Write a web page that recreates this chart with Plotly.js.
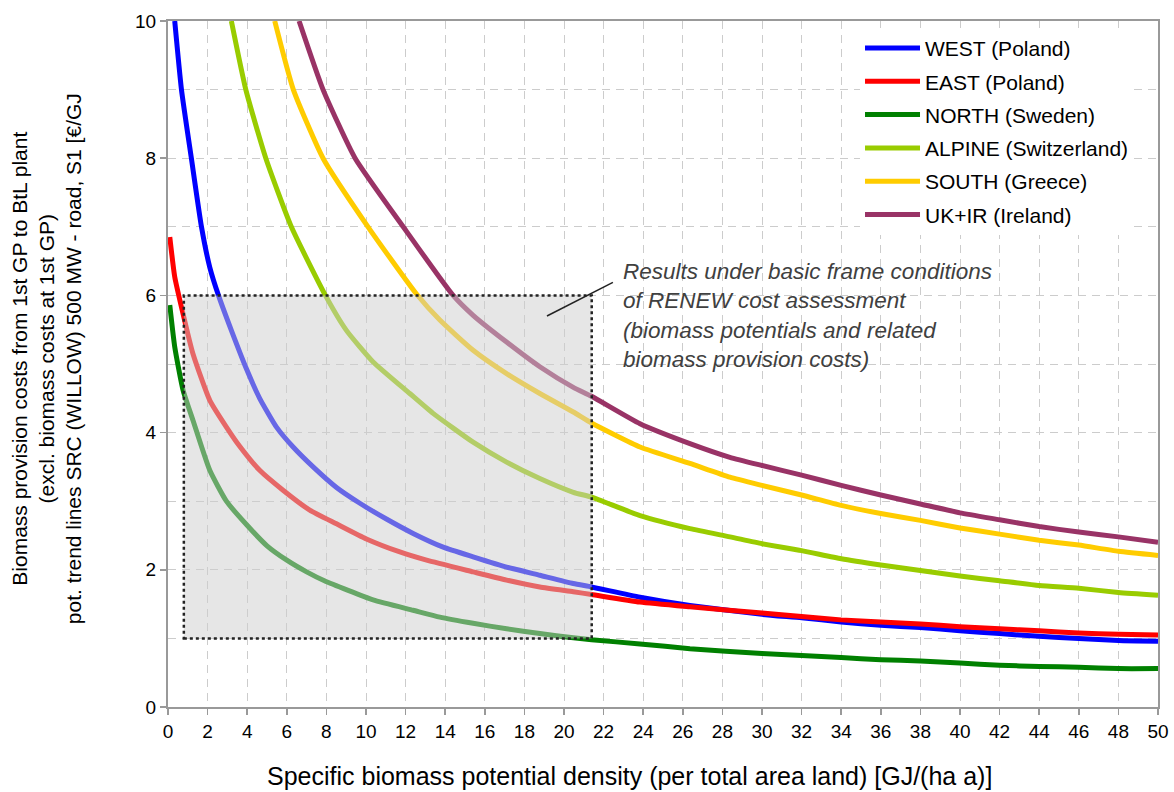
<!DOCTYPE html>
<html>
<head>
<meta charset="utf-8">
<script src="https://cdn.plot.ly/plotly-3.0.1.min.js"></script>
<style>
  html, body { margin: 0; padding: 0; background: #ffffff; }
  #chart { width: 1174px; height: 792px; }
</style>
</head>
<body>
<div id="chart"></div>
<script>
// Trend lines of biomass provision costs per region (€/GJ) vs. potential density (GJ/(ha a))
const westX = [0.34, 0.68, 1.18, 1.69, 2.11, 2.55, 3.2, 3.96, 4.63, 5.48, 6.32, 7.33, 8.51, 9.69, 11.03, 12.38, 13.9, 15.41, 17.1, 18.78, 20.47, 21.39, 23.84, 26.36, 30, 32, 34, 36, 38, 40, 42, 44, 46, 48, 50];
const westY = [10, 9, 8, 7, 6.41, 6.0, 5.49, 4.93, 4.5, 4.08, 3.79, 3.5, 3.2, 2.97, 2.74, 2.53, 2.33, 2.19, 2.04, 1.92, 1.8, 1.75, 1.6, 1.48, 1.35, 1.30, 1.24, 1.19, 1.16, 1.11, 1.07, 1.03, 1.00, 0.97, 0.96];

const eastX = [0.09, 0.34, 0.72, 1.26, 2.11, 2.95, 3.62, 4.63, 5.81, 7.16, 8.51, 10.02, 11.71, 13.06, 15.41, 17.1, 18.78, 20.47, 21.39, 23.84, 26.36, 30, 32, 34, 36, 38, 40, 42, 44, 46, 48, 50];
const eastY = [6.85, 6.27, 5.78, 5.15, 4.47, 4.08, 3.8, 3.45, 3.16, 2.87, 2.67, 2.45, 2.26, 2.14, 1.97, 1.85, 1.75, 1.68, 1.64, 1.53, 1.46, 1.37, 1.32, 1.27, 1.24, 1.21, 1.17, 1.14, 1.11, 1.08, 1.06, 1.05];

const northX = [0.09, 0.34, 0.76, 1.26, 2.11, 2.95, 3.96, 5.0, 6.0, 7.0, 7.9, 10.36, 12.38, 13.73, 15.41, 17.1, 18.78, 20.47, 21.39, 23.84, 26.36, 30, 32, 34, 36, 38, 40, 42, 44, 46, 48, 50];
const northY = [5.86, 5.25, 4.62, 4.18, 3.45, 3.0, 2.66, 2.35, 2.14, 1.97, 1.84, 1.56, 1.41, 1.31, 1.22, 1.14, 1.07, 1.01, 0.98, 0.92, 0.85, 0.78, 0.75, 0.72, 0.69, 0.67, 0.64, 0.61, 0.59, 0.58, 0.56, 0.56];

const alpineX = [3.2, 3.93, 4.94, 6.23, 7.95, 9.01, 10.36, 12.21, 13.39, 15.41, 17.1, 18.78, 20.47, 21.39, 23.84, 26.36, 28.38, 30, 32, 34, 36, 38, 40, 42, 44, 46, 48, 50];
const alpineY = [10, 9, 8, 7.0, 6.0, 5.49, 5.03, 4.57, 4.28, 3.86, 3.57, 3.33, 3.13, 3.06, 2.79, 2.6, 2.48, 2.38, 2.28, 2.16, 2.07, 1.99, 1.91, 1.84, 1.77, 1.73, 1.67, 1.63];

const southX = [5.39, 6.33, 7.83, 10.1, 12.55, 13.73, 15.41, 17.1, 18.78, 20.47, 21.39, 23.84, 26.36, 28.38, 30, 32, 34, 36, 38, 40, 42, 44, 46, 48, 50];
const southY = [10, 9, 8.0, 7.0, 6.02, 5.64, 5.2, 4.86, 4.57, 4.3, 4.14, 3.79, 3.55, 3.35, 3.23, 3.09, 2.94, 2.82, 2.72, 2.61, 2.52, 2.43, 2.36, 2.27, 2.21];

const ukX = [6.62, 7.83, 9.45, 11.88, 14.4, 15.41, 17.1, 18.78, 20.47, 21.39, 23.84, 26.36, 28.38, 30, 32, 34, 36, 38, 40, 42, 44, 46, 48, 50];
const ukY = [10, 9.0, 8.0, 7.0, 6.0, 5.71, 5.32, 4.96, 4.66, 4.53, 4.13, 3.84, 3.64, 3.52, 3.38, 3.23, 3.09, 2.96, 2.83, 2.73, 2.63, 2.55, 2.48, 2.40];

const seriesNames = ['WEST (Poland)', 'EAST (Poland)', 'NORTH (Sweden)', 'ALPINE (Switzerland)', 'SOUTH (Greece)', 'UK+IR (Ireland)'];
const seriesColors = ['#0000ff', '#ff0000', '#008000', '#99cc00', '#ffcc00', '#993366'];
const seriesX = [westX, eastX, northX, alpineX, southX, ukX];
const seriesY = [westY, eastY, northY, alpineY, southY, ukY];

// Range of the basic frame conditions (density and cost bounds)
const frameX = [0.8, 21.4];
const frameY = [1, 6];

const xTicks = [];
for (let v = 0; v <= 50; v += 2) xTicks.push(v);
const yTicks = [0, 2, 4, 6, 8, 10];

const FONT = 'Liberation Sans, Arial, sans-serif';

const traces = seriesNames.map((name, i) => ({
  type: 'scatter',
  mode: 'lines',
  name: name,
  x: seriesX[i],
  y: seriesY[i],
  line: { color: seriesColors[i], width: 5, shape: 'spline', smoothing: 0.5 },
  legendgroup: 'g' + i,
  hoverinfo: 'x+y+name'
}));

const grid = { gridcolor: '#cccccc', gridwidth: 1, griddash: '8px,6px' };

const layout = {
  width: 1174,
  height: 792,
  margin: { l: 168, r: 16, t: 21, b: 85 },
  paper_bgcolor: '#ffffff',
  plot_bgcolor: '#ffffff',
  font: { family: FONT, size: 18, color: '#000000' },
  showlegend: true,
  legend: {
    x: 0.699, xanchor: 'left',
    y: 0.99, yanchor: 'top',
    bgcolor: '#ffffff',
    borderwidth: 0,
    font: { family: FONT, size: 21, color: '#000000' },
    itemwidth: 55,
    traceorder: 'grouped',
    tracegroupgap: 3
  },
  xaxis: Object.assign({
    range: [0, 50],
    tickvals: xTicks,
    ticktext: xTicks.map(String),
    showgrid: true,
    zeroline: false,
    showline: true, linecolor: '#999999', linewidth: 2, mirror: true,
    ticks: 'outside', ticklen: 6, tickwidth: 1.5, tickcolor: '#999999',
    tickfont: { family: FONT, size: 19, color: '#000000' },
    fixedrange: true
  }, grid),
  yaxis: Object.assign({
    range: [0, 10],
    tickvals: yTicks,
    ticktext: yTicks.map(String),
    showgrid: true,
    minor: { dtick: 1, showgrid: true, gridcolor: '#cccccc', gridwidth: 1, griddash: '8px,6px', ticks: '' },
    zeroline: false,
    showline: true, linecolor: '#999999', linewidth: 2, mirror: true,
    ticks: 'outside', ticklen: 6, tickwidth: 1.5, tickcolor: '#999999',
    tickfont: { family: FONT, size: 19, color: '#000000' },
    fixedrange: true
  }, grid),
  shapes: [
    {
      type: 'rect', xref: 'x', yref: 'y',
      x0: frameX[0], x1: frameX[1], y0: frameY[0], y1: frameY[1],
      layer: 'above',
      fillcolor: 'rgba(205,205,205,0.5)',
      line: { color: '#222222', width: 2.5, dash: 'dot' }
    },
    {
      type: 'line', xref: 'x', yref: 'y',
      x0: 19.14, y0: 5.70, x1: 22.47, y1: 6.19,
      layer: 'above',
      line: { color: '#222222', width: 1.5 }
    }
  ],
  annotations: [
    {
      xref: 'x', yref: 'y', x: 22.9, y: 5.7,
      xanchor: 'left', yanchor: 'middle', align: 'left',
      showarrow: false,
      text: 'Results under basic frame conditions<br>of RENEW cost assessment<br>(biomass potentials and related<br>biomass provision costs)',
      font: { family: FONT, size: 22.5, color: '#404040', style: 'italic' }
    },
    {
      xref: 'paper', yref: 'paper', x: (629 - 168) / 990, y: -0.1006,
      xanchor: 'center', yanchor: 'middle',
      showarrow: false,
      text: 'Specific biomass potential density (per total area land) [GJ/(ha a)]',
      font: { family: FONT, size: 25, color: '#000000' }
    },
    {
      xref: 'paper', yref: 'paper', x: (47 - 168) / 990, y: 0.507,
      xanchor: 'center', yanchor: 'middle',
      textangle: -90,
      showarrow: false,
      text: 'Biomass provision costs from 1st GP to BtL plant<br>(excl. biomass costs at 1st GP)<br>pot. trend lines SRC (WILLOW) 500 MW - road, S1 [€/GJ',
      font: { family: FONT, size: 21, color: '#000000' }
    }
  ]
};

Plotly.newPlot('chart', traces, layout, { displayModeBar: false, staticPlot: true });
</script>
</body>
</html>
